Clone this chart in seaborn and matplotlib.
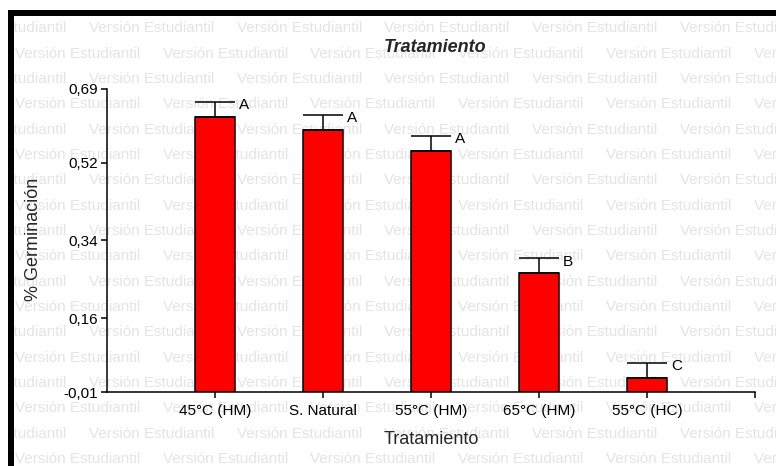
import numpy as np
import pandas as pd
import matplotlib
matplotlib.use("Agg")
import matplotlib.pyplot as plt
from matplotlib.patches import Rectangle
import seaborn as sns

# ---- data ----
categories = ["45°C (HM)", "S. Natural", "55°C (HM)", "65°C (HM)", "55°C (HC)"]
germination = [0.625, 0.595, 0.547, 0.264, 0.023]
errors = [0.036, 0.036, 0.035, 0.035, 0.035]
letters = ["A", "A", "A", "B", "C"]
y_ticks = [-0.01, 0.16, 0.34, 0.52, 0.69]
y_tick_labels = ["-0,01", "0,16", "0,34", "0,52", "0,69"]

sns.set_style("ticks")
plt.rcParams["font.family"] = ["Liberation Sans", "DejaVu Sans"]

W, H = 776, 466
fig = plt.figure(figsize=(W / 100, H / 100), dpi=100, facecolor="white")

# ---- watermark background ----
bg = fig.add_axes([14 / W, 0, 1 - 14 / W, (H - 16) / H], zorder=-2)
bg.set_xlim(14, W)
bg.set_ylim(H, 16)
bg.axis("off")
period = 147.7
for k in range(18):
    base = 32.5 + 25.33 * k
    x0 = 15 if k % 2 == 1 else 15 + period / 2 - period
    x = x0
    while x < W:
        bg.text(x, base, "Versión Estudiantil", fontsize=11, color="#e4e4e4",
                ha="left", va="baseline", clip_on=True)
        x += period

# ---- main axes ----
ax = fig.add_axes([107 / W, 1 - 392 / H, (755 - 107) / W, (392 - 89) / H], zorder=1)
ax.set_facecolor("none")
df = pd.DataFrame({"Tratamiento": categories, "Germ": germination})
sns.barplot(data=df, x="Tratamiento", y="Germ", order=categories, color="#ff0000",
            saturation=1, edgecolor="black", linewidth=1.1, width=0.37,
            errorbar=None, ax=ax, zorder=2)
# bars start at the bottom of the axis (-0.01)
for p in ax.patches:
    top = p.get_y() + p.get_height()
    p.set_y(y_ticks[0])
    p.set_height(top - y_ticks[0])

xs = np.arange(len(categories))
ax.errorbar(xs, germination, yerr=[np.zeros(len(errors)), errors], fmt="none",
            ecolor="black", elinewidth=1.1, capsize=14.4, capthick=1.1, zorder=3)
for i, (v, e, l) in enumerate(zip(germination, errors, letters)):
    ax.annotate(l, (i + 0.37 / 2, v + e), xytext=(3, -2.5), textcoords="offset points",
                ha="left", va="center", fontsize=11, color="black")

ax.set_xlim(-1, 5)
ax.set_ylim(-0.01, 0.69)
ax.set_xticks(list(xs) + [5])
ax.set_xticklabels(categories + [""], fontsize=11)
ax.set_yticks(y_ticks)
ax.set_yticklabels(y_tick_labels, fontsize=11)
for s in ["top", "right"]:
    ax.spines[s].set_visible(False)
for s in ["left", "bottom"]:
    ax.spines[s].set_linewidth(1.1)
    ax.spines[s].set_color("black")
ax.tick_params(direction="out", length=4.2, width=1.1, colors="black", pad=2)
ax.tick_params(axis="x", pad=4.5)

ax.set_xlabel("Tratamiento", fontsize=13)
ax.xaxis.set_label_coords(0.5, -0.128)
ax.set_ylabel("% Germinación", fontsize=13)
ax.yaxis.set_label_coords(-0.1, 0.505)

fig.text(435 / W, 1 - 48 / H, "Tratamiento", ha="center", va="center",
         fontsize=13, fontweight="bold", fontstyle="italic")

# ---- black frame (left and top) ----
fig.patches.append(Rectangle((8 / W, 0), 6 / W, (H - 10) / H, transform=fig.transFigure,
                             facecolor="black", edgecolor="none", zorder=5))
fig.patches.append(Rectangle((8 / W, 1 - 16 / H), 1 - 8 / W, 6 / H, transform=fig.transFigure,
                             facecolor="black", edgecolor="none", zorder=5))

fig.savefig("out.png", dpi=100, facecolor="white")
